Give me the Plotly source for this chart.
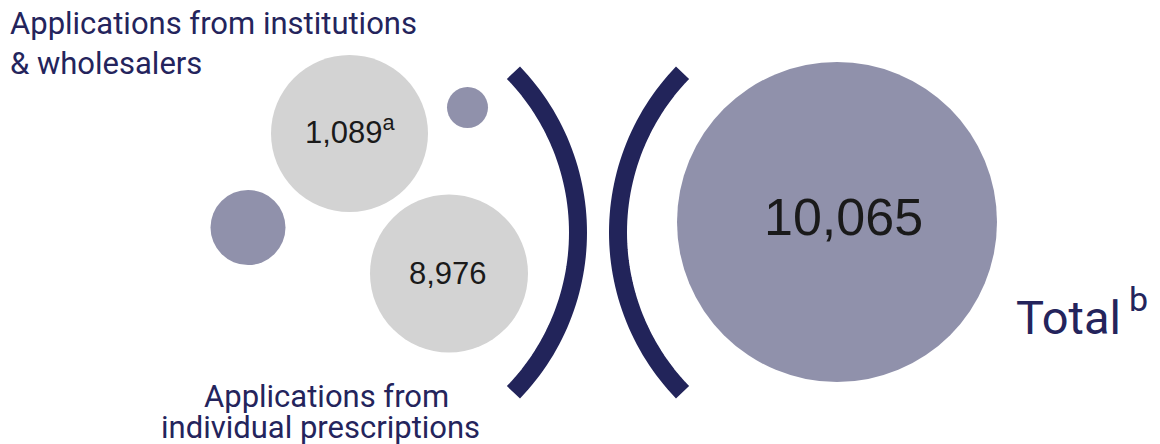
import math
import plotly.graph_objects as go

# ---- data ----
segment_labels = ["Applications from institutions & wholesalers",
                  "Applications from individual prescriptions"]
segment_values = [1089, 8976]
segment_notes = ["a", ""]
total_value = 10065
total_label = "Total"
total_note = "b"

# ---- styles ----
GRAY = "#d3d3d3"
PURPLE = "#9091ab"
NAVY = "#22245a"
TEXT_NAVY = "#24245c"
NUM = "#1a1a1a"
LABEL_FONT = "Roboto"
NUM_FONT = "Liberation Sans, Arial"

W, H = 1160, 444
PAGE_OFF = 8  # default page body margin

fig = go.Figure()

# value bubbles (light gray) for each segment
seg_pos = [(349.5, 133.5), (449, 273.5)]
seg_diam = [157, 158]
fig.add_trace(go.Scatter(
    x=[p[0] for p in seg_pos], y=[p[1] for p in seg_pos],
    mode="markers",
    marker=dict(size=seg_diam, color=GRAY, opacity=1, line=dict(width=0)),
    hoverinfo="skip", showlegend=False, cliponaxis=False))

# decorative small bubbles
deco_pos = [(467.5, 107.5), (248, 227.5)]
deco_diam = [41, 75]
fig.add_trace(go.Scatter(
    x=[p[0] for p in deco_pos], y=[p[1] for p in deco_pos],
    mode="markers",
    marker=dict(size=deco_diam, color=PURPLE, opacity=1, line=dict(width=0)),
    hoverinfo="skip", showlegend=False, cliponaxis=False))

# total bubble
fig.add_trace(go.Scatter(
    x=[837], y=[222], mode="markers",
    marker=dict(size=[320], color=PURPLE, opacity=1, line=dict(width=0)),
    hoverinfo="skip", showlegend=False, cliponaxis=False))

# ---- bracket arcs ----
def arc_path(cx, cy, r, a0, a1, n=60):
    pts = []
    for i in range(n + 1):
        a = math.radians(a0 + (a1 - a0) * i / n)
        pts.append((cx + r * math.cos(a), cy + r * math.sin(a)))
    return "M " + " L ".join(f"{x:.2f},{y:.2f}" for x, y in pts)

R = 230
CY = 232.5
HALF = 44.0
fig.add_shape(type="path", path=arc_path(348, CY, R, -HALF, HALF),
              line=dict(color=NAVY, width=18), xref="x", yref="y")
fig.add_shape(type="path", path=arc_path(848, CY, R, 180 - HALF, 180 + HALF),
              line=dict(color=NAVY, width=18), xref="x", yref="y")

# ---- text ----
def ann(x, y, text, size, color, family, xanchor="center"):
    fig.add_annotation(x=x, y=y, xref="x", yref="y", text=text, showarrow=False,
                       xanchor=xanchor, yanchor="middle",
                       font=dict(size=size, color=color, family=family))

def fmt(v, note):
    s = f"{v:,}"
    return s + (f"<sup>{note}</sup>" if note else "")

ann(350, 130, fmt(segment_values[0], segment_notes[0]), 31, NUM, NUM_FONT)
ann(448, 273, fmt(segment_values[1], segment_notes[1]), 31, NUM, NUM_FONT)
ann(843.5, 217, fmt(total_value, ""), 52, NUM, NUM_FONT)
ann(1014, 317, total_label, 47, TEXT_NAVY, LABEL_FONT, "left")
ann(1127, 299, total_note, 34, TEXT_NAVY, LABEL_FONT, "left")

# segment labels
l1 = segment_labels[0].split(" & ")
ann(8, 23, l1[0], 31, TEXT_NAVY, LABEL_FONT, "left")
ann(8, 63, "& " + l1[1], 31, TEXT_NAVY, LABEL_FONT, "left")
words = segment_labels[1].split(" ")
ann(326, 396, " ".join(words[:2]), 31, TEXT_NAVY, LABEL_FONT)
ann(320, 427, " ".join(words[2:]), 31, TEXT_NAVY, LABEL_FONT)

fig.update_layout(
    width=W - PAGE_OFF, height=H - PAGE_OFF,
    margin=dict(l=0, r=0, t=0, b=0),
    paper_bgcolor="white", plot_bgcolor="white",
    xaxis=dict(range=[PAGE_OFF, W], visible=False, fixedrange=True),
    yaxis=dict(range=[H, PAGE_OFF], visible=False, fixedrange=True),
    showlegend=False,
)

fig.write_html("out.html")
